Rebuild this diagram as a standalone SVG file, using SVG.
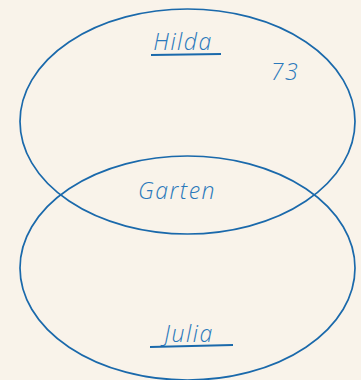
<svg xmlns="http://www.w3.org/2000/svg" width="361" height="380" viewBox="0 0 361 380">
<style>
.set{fill:none;stroke:#1a69ab;stroke-width:1.7}
.t{font-family:"Open Sans","Liberation Sans",sans-serif;font-style:italic;font-weight:300;fill:#2a78bb;font-size:23px;letter-spacing:1.5px}
.u{stroke:#1a69ab;stroke-width:2;fill:none}
</style>
<rect width="361" height="380" fill="#f9f3ea"/>
<g id="hilda">
<ellipse class="set" cx="187.5" cy="121.5" rx="167.5" ry="112.5"/>
<text class="t" x="183" y="50" text-anchor="middle">Hilda</text>
<line class="u" x1="151" y1="55" x2="221" y2="54"/>
<text class="t" x="285" y="80" text-anchor="middle">73</text>
</g>
<g id="julia">
<ellipse class="set" cx="187.5" cy="268" rx="167.5" ry="112"/>
<text class="t" x="189" y="342" text-anchor="middle">Julia</text>
<line class="u" x1="150" y1="347" x2="233" y2="345"/>
</g>
<g id="intersection">
<text class="t" x="177" y="199" text-anchor="middle">Garten</text>
</g>
<g id="connectors"/>
</svg>
